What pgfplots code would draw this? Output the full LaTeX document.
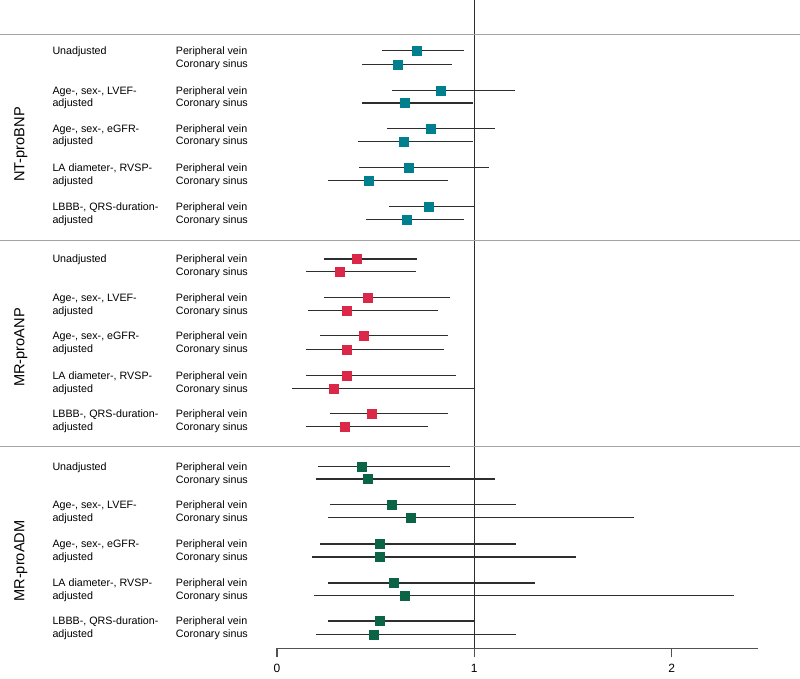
\documentclass[border=0pt]{standalone}
\usepackage{fontspec}
\setmainfont{Liberation Sans}
\usepackage{pgfplots}
\pgfplotsset{compat=1.18}
\usepackage{pgfplotstable}

\definecolor{ntcol}{HTML}{00808F}
\definecolor{anpcol}{HTML}{DC2848}
\definecolor{admcol}{HTML}{0B6446}
\definecolor{ci}{HTML}{2E2E2E}
\definecolor{sep}{HTML}{A3A3A3}

% y = row position (pt from top), est / lo / hi = estimate and 95% CI
\pgfplotstableread{
y      est    lo     hi
50.7   0.708  0.531  0.949
64.3   0.610  0.429  0.885
90.3   0.830  0.581  1.206
103.0  0.645  0.429  0.992
128.3  0.777  0.559  1.105
141.3  0.640  0.409  0.992
167.7  0.667  0.417  1.073
180.7  0.466  0.260  0.865
206.7  0.767  0.569  1.000
219.3  0.655  0.450  0.949
}\ntprobnp

\pgfplotstableread{
y      est    lo     hi
259.0  0.405  0.238  0.711
271.7  0.319  0.149  0.703
297.3  0.458  0.238  0.875
310.3  0.355  0.159  0.814
335.7  0.438  0.219  0.865
349.7  0.355  0.149  0.845
375.3  0.355  0.149  0.906
388.3  0.289  0.078  1.000
413.7  0.478  0.270  0.865
426.7  0.341  0.149  0.764
}\mrproanp

\pgfplotstableread{
y      est    lo     hi
466.4  0.427  0.209  0.879
479.1  0.459  0.198  1.105
504.7  0.580  0.270  1.209
517.7  0.679  0.257  1.807
543.9  0.520  0.220  1.209
556.9  0.520  0.177  1.513
582.8  0.591  0.257  1.307
595.5  0.646  0.186  2.314
621.1  0.520  0.257  1.000
634.7  0.489  0.198  1.209
}\mrproadm

\newcommand{\rowfont}{\fontsize{10.7}{12}\selectfont}
\pgfplotsset{
  cibars/.style={draw=none, mark=none, forget plot,
    error bars/.cd, x dir=both, x explicit, error mark=none,
    error bar style={draw=ci, line width=1.4pt}},
  est/.style={only marks, mark=square*, mark size=4.5pt, color=#1,
    mark options={draw=#1, fill=#1, line width=0.3pt}},
}

\begin{document}
\begin{tikzpicture}
\begin{axis}[
  scale only axis,
  width=481.4pt, height=648.3pt,
  xmin=0, xmax=2.44, ymin=-648.3, ymax=0,
  clip=false,
  axis x line*=bottom, axis y line=none,
  x axis line style={-, draw=black!68, line width=1.4pt},
  xtick={0,1,2}, xticklabels={0,1,2},
  tick align=outside, major tick length=9pt,
  tick style={draw=black!68, line width=1.4pt},
  xticklabel style={font=\fontsize{12}{13}\selectfont, yshift=-3pt},
  y filter/.expression={-y},
]
\draw[ci, line width=1.4pt] (axis cs:1,0) -- (axis cs:1,-648.3);

% confidence intervals, then point estimates
\addplot[cibars] table[x=est, y=y,
  x error plus expr=\thisrow{hi}-\thisrow{est},
  x error minus expr=\thisrow{est}-\thisrow{lo}] {\ntprobnp};
\addplot[cibars] table[x=est, y=y,
  x error plus expr=\thisrow{hi}-\thisrow{est},
  x error minus expr=\thisrow{est}-\thisrow{lo}] {\mrproanp};
\addplot[cibars] table[x=est, y=y,
  x error plus expr=\thisrow{hi}-\thisrow{est},
  x error minus expr=\thisrow{est}-\thisrow{lo}] {\mrproadm};

\addplot[est=ntcol] table[x=est, y=y] {\ntprobnp};
\addplot[est=anpcol] table[x=est, y=y] {\mrproanp};
\addplot[est=admcol] table[x=est, y=y] {\mrproadm};

\coordinate (o) at (axis cs:0,0);
\end{axis}

% labels and separators: x in HR units, y in pt from the top
\begin{scope}[shift={(o)}, x=197.3pt, y=-1pt]
\foreach \s in {34.5,240.5,446.5}{
  \draw[sep, line width=1.4pt] (-1.4039,\s) -- (2.6508,\s);
}
\foreach \r/\one/\two in {
    50.7/Unadjusted/{}, 90.3/{Age-, sex-, LVEF-}/adjusted,
    128.3/{Age-, sex-, eGFR-}/adjusted, 167.7/{LA diameter-, RVSP-}/adjusted,
    206.7/{LBBB-, QRS-duration-}/adjusted,
    259.0/Unadjusted/{}, 297.3/{Age-, sex-, LVEF-}/adjusted,
    335.7/{Age-, sex-, eGFR-}/adjusted, 375.3/{LA diameter-, RVSP-}/adjusted,
    413.7/{LBBB-, QRS-duration-}/adjusted,
    466.4/Unadjusted/{}, 504.7/{Age-, sex-, LVEF-}/adjusted,
    543.9/{Age-, sex-, eGFR-}/adjusted, 582.8/{LA diameter-, RVSP-}/adjusted,
    621.1/{LBBB-, QRS-duration-}/adjusted}{
  \node[anchor=base west, inner sep=0pt, font=\rowfont] at (-1.1388,\r+3.8) {\one};
  \node[anchor=base west, inner sep=0pt, font=\rowfont] at (-1.1388,\r+16.7) {\two};
  \node[anchor=base west, inner sep=0pt, font=\rowfont] at (-0.5135,\r+3.8) {Peripheral vein};
  \node[anchor=base west, inner sep=0pt, font=\rowfont] at (-0.5135,\r+16.7) {Coronary sinus};
}
\foreach \yy/\name in {144.5/NT-proBNP, 347.5/MR-proANP, 561/MR-proADM}{
  \node[rotate=90, inner sep=0pt, font=\fontsize{14.6}{16}\selectfont]
    at (-1.2985,\yy) {\name};
}
\coordinate (tl) at (-1.4039,0);
\coordinate (br) at (2.6508,678);
\end{scope}
\pgfresetboundingbox
\path (tl) rectangle (br);
\end{tikzpicture}
\end{document}
